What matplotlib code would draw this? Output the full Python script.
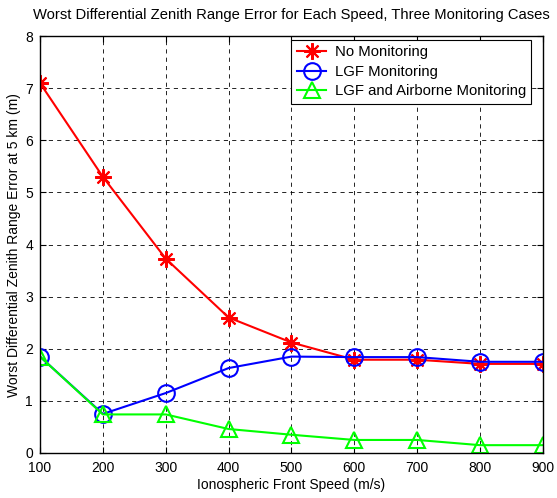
import matplotlib
matplotlib.use("Agg")
import matplotlib.pyplot as plt

plt.rcParams['font.family'] = ['Liberation Sans', 'DejaVu Sans']

speeds = [100, 200, 300, 400, 500, 600, 700, 800, 900]
no_monitoring = [7.1, 5.3, 3.73, 2.6, 2.12, 1.79, 1.79, 1.71, 1.71]
lgf_monitoring = [1.85, 0.75, 1.15, 1.63, 1.85, 1.84, 1.84, 1.75, 1.75]
lgf_airborne = [1.85, 0.74, 0.74, 0.46, 0.35, 0.25, 0.25, 0.15, 0.15]

fig = plt.figure(figsize=(5.57, 4.98), dpi=100)
ax = fig.add_axes([0.0718, 0.0904, 0.903, 0.837])

# asterisk marker: 8 spokes
ax.plot(speeds, no_monitoring, color='red', marker=(8, 2, 0), markersize=12,
        markeredgewidth=1.5, linewidth=1.5, label='No Monitoring')
ax.plot(speeds, lgf_monitoring, color='blue', marker='o', markersize=12,
        markerfacecolor='none', markeredgewidth=1.5, linewidth=1.5,
        label='LGF Monitoring')
ax.plot(speeds, lgf_airborne, color='#00ff00', marker='^', markersize=12,
        markerfacecolor='none', markeredgewidth=1.5, linewidth=1.5,
        label='LGF and Airborne Monitoring')

ax.set_xlim(100, 900)
ax.set_ylim(0, 8)
ax.set_xticks(speeds)
ax.set_yticks(range(0, 9))
ax.tick_params(direction='in', labelsize=10, length=4, top=True, right=True)
ax.tick_params(axis='x', pad=6)
ax.tick_params(axis='y', pad=5)
ax.grid(True, color='black', linestyle=(0, (5, 5)), linewidth=0.6)
for s in ax.spines.values():
    s.set_linewidth(1.0)

ax.set_title('Worst Differential Zenith Range Error for Each Speed, Three Monitoring Cases',
             fontsize=10.6, pad=12)
ax.set_xlabel('Ionospheric Front Speed (m/s)', fontsize=10, labelpad=2)
ax.set_ylabel('Worst Differential Zenith Range Error at 5 km (m)', fontsize=10, labelpad=3)

leg = ax.legend(loc='upper right', bbox_to_anchor=(531 / 557, 458 / 498),
                bbox_transform=fig.transFigure, fontsize=10.7, fancybox=False,
                framealpha=1, edgecolor='black', borderaxespad=0,
                handlelength=2.0, handletextpad=0.55, labelspacing=0.38,
                borderpad=0.35)
leg.get_frame().set_linewidth(0.8)

fig.savefig('out.png', dpi=100)
